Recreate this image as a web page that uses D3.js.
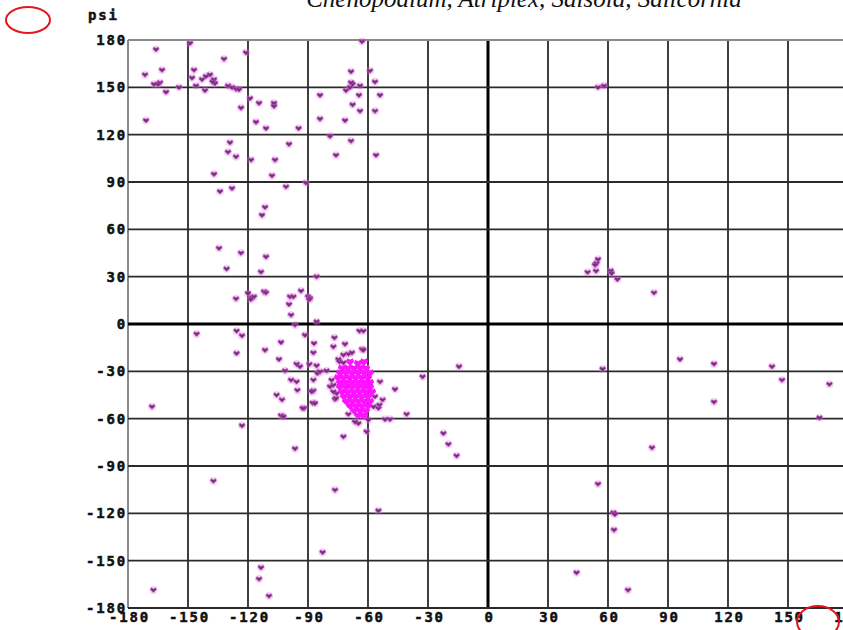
<!DOCTYPE html>
<html>
<head>
<meta charset="utf-8">
<script src="https://cdn.jsdelivr.net/npm/d3@7"></script>
<style>
  body { margin: 0; background: #fff; }
  svg { display: block; }
</style>
</head>
<body>
<div id="chart"></div>
<script>
// tick values, both axes
var ticks = [-180, -150, -120, -90, -60, -30, 0, 30, 60, 90, 120, 150, 180];

// scattered residues [phi, psi]
var residues = [
  [-166,174],[-171.5,158],[-163,161],[-164,153],[-165,152],[-167,152],[-161,147],[-154.5,150],
  [-171,129],[-149,178],[-147,161],[-148,156],[-146,151],[-141.5,148],[-143,155],[-141,157],
  [-139,158],[-137,155],[-136.5,152.5],[-137.7,153.5],[-132,168],[-130,151],[-128,150],[-126,149],
  [-124.5,148.6],[-121,172],[-123.5,137],[-119,143],[-114.5,140],[-107,140],[-107,138],[-116,128],
  [-111,124],[-94.7,124],[-129,115],[-130,109],[-126,106],[-118.5,104],[-106.5,104],[-99.5,114],
  [-137,95],[-134,84],[-128,86],[-108,94],[-101,87],[-91,89.5],[-111.5,74],[-113,69],
  [-84,145],[-84,130],[-79,119],[-76,107],[-71.5,129],[-71,148],[-69,150],[-67.7,152],
  [-68.5,153],[-68.5,160],[-67.7,139],[-68.5,116],[-64.5,145],[-64,151],[-64,135],[-63,179],
  [-59,160.5],[-56.5,153.5],[-56.5,135],[-56,107],[-54,145],
  [-134.5,48],[-123.5,45],[-111,42.6],[-130.7,35],[-113.5,33],[-85.7,30],[-126,16],[-120,19.4],
  [-118,16.7],[-117,17.3],[-118.7,15.6],[-112,20.5],[-111,19.8],[-99,17.3],[-97.3,17.3],[-99.5,12.5],
  [-93.5,21],[-98.5,5.7],[-96.5,-0.6],[-90,17.3],[-89,16.3],[-89.3,15.6],[-85.7,1.5],
  [-145.7,-6.3],[-125.7,-4.4],[-123,-7.4],[-125.7,-18.6],[-111.5,-16.5],[-103.5,-11.6],[-104.5,-22.4],
  [-101.5,-29.6],[-95.7,-25.4],[-94,-27],[-98.5,-35.5],[-95.7,-36.6],[-95.3,-42],[-105.7,-45],
  [-103,-48],[-103.5,-58],[-92,-53.4],[-91.5,-7],[-87,-12.3],[-89.3,-25.5],[-87.3,-18.2],
  [-87.3,-35.5],[-87.3,-42.3],[-87.7,-50],[-85.3,-31.3],[-84,-30.2],[-80.7,-29.6],[-85.7,-26.4],
  [-76.8,-8.7],[-77.3,-14.4],[-71.5,-12.7],[-74.8,-22.4],[-69.8,-19],[-68,-18.2],[-72.3,-19.6],
  [-63,-16],[-74.3,-23.9],[-72.3,-24.5],[-77.3,-38.7],[-75.7,-44],[-76.5,-47.7],[-79,-39.7],
  [-78.2,-35.5],[-64.3,-4.4],[-62.3,-4.4],[-62.3,-16.5],[-54,-36.6],[-46.5,-41.4],[-52.7,-48],
  [-54.3,-51.3],[-56.5,-46],[-57.3,-52.4],[-54.8,-53.4],[-69.8,-57.2],[-51.5,-60.4],[-49,-60.4],
  [-40.7,-57.2],[-62.3,-58.7],[-59.8,-60.8],[-64.8,-63],[-60.7,-68.2],[-66.5,-62],[-123,-64.4],
  [-168,-52.4],[-32.7,-33.4],[-102.3,-58.7],[-92.7,-53.4],[-86.5,-50.3],[-88.2,-42.9],[-77.3,-42.9],
  [-76,-47.1],[-72.3,-71.4],[-96.5,-79],[-14.5,-27],
  [-22.3,-69.3],[-19.8,-76.2],[-15.7,-83.5],[-137.3,-99.5],[-76.5,-105.2],[-54.8,-118.3],
  [-82.7,-144.7],[-113.5,-154.4],[-114.5,-161.6],[-109.5,-172.4],[-167.3,-168.6],
  [55,41],[54.3,38.5],[53.5,37.4],[49.8,32.8],[54,33.6],[61.3,33.8],[61.8,32.1],[64.7,28.3],
  [83,19.8],[57.3,-28.5],[96,-22.4],[113,-25.3],[113,-49.4],[142,-27],[147,-35.5],[170.7,-38.2],
  [165.7,-59.4],[82,-78.4],[55,-101.4],[62.7,-119.6],[63.5,-120.6],[63,-130.5],[44.3,-157.6],
  [70,-168.6],[55,150],[58,151]
];

// dense alpha-helix core, drawn bright
var helixCore = [
  [-69,-24],[-65,-25],[-62,-24],
  [-73,-28],[-70,-28],[-67,-28],[-64,-28],[-61,-28],
  [-74,-31],[-71,-31],[-68,-31],[-65,-31],[-62,-31],[-59,-31],
  [-75,-34],[-72,-34],[-69,-34],[-66,-34],[-63,-34],[-60,-34],
  [-74,-37],[-71,-37],[-68,-37],[-65,-37],[-62,-37],[-59,-37],
  [-74,-40],[-71,-40],[-68,-40],[-65,-40],[-62,-40],[-59,-40],
  [-73,-43],[-70,-43],[-67,-43],[-64,-43],[-61,-43],[-58,-43],
  [-72,-46],[-69,-46],[-66,-46],[-63,-46],[-60,-46],
  [-71,-49],[-68,-49],[-65,-49],[-62,-49],[-59,-49],
  [-69,-52],[-66,-52],[-63,-52],[-60,-52],
  [-67,-55],[-64,-55],[-61,-55],
  [-65,-58],[-62,-58]
];

var title = "Chenopodium, Atriplex, Salsola, Salicornia";

var width = 843, height = 630;
var svg = d3.select("#chart").append("svg")
  .attr("width", width)
  .attr("height", height);

var x = d3.scaleLinear().domain([-180, 180]).range([128, 848]);
var y = d3.scaleLinear().domain([180, -180]).range([40, 608]);

// title, top half runs off the page
svg.append("text")
  .attr("x", 524)
  .attr("y", 7)
  .attr("text-anchor", "middle")
  .style("font-family", "'Liberation Serif', serif")
  .style("font-style", "italic")
  .style("font-size", "25px")
  .style("fill", "#111")
  .text(title);

// grid
var grid = svg.append("g").attr("class", "grid");
function lineStyle(d) {
  if (d === 0) return {c: "#000", w: 3};
  if (d === 180 || d === -180) return {c: "#8a8a8a", w: 2};
  return {c: "#2a2a2a", w: 1.8};
}
grid.selectAll("line.v")
  .data(ticks)
  .enter().append("line")
  .attr("class", "v")
  .attr("x1", function(d) { return x(d); })
  .attr("x2", function(d) { return x(d); })
  .attr("y1", y(180))
  .attr("y2", y(-180))
  .attr("stroke", function(d) { return lineStyle(d).c; })
  .attr("stroke-width", function(d) { return lineStyle(d).w; });

grid.selectAll("line.h")
  .data(ticks)
  .enter().append("line")
  .attr("class", "h")
  .attr("y1", function(d) { return y(d); })
  .attr("y2", function(d) { return y(d); })
  .attr("x1", x(-180))
  .attr("x2", x(180))
  .attr("stroke", function(d) { return d === -180 ? "#2a2a2a" : lineStyle(d).c; })
  .attr("stroke-width", function(d) { return lineStyle(d).w; });

// chunky bitmap-ish label look
function labelStyle(sel) {
  sel.style("font-family", "'DejaVu Sans Mono', monospace")
    .style("font-weight", "bold")
    .style("font-size", "14px")
    .style("letter-spacing", "1.8px")
    .style("fill", "#111")
    .style("stroke", "#111")
    .style("stroke-width", "0.5px");
}

// axes labels only
var xAxis = svg.append("g")
  .attr("transform", "translate(0," + 610 + ")")
  .call(d3.axisBottom(x).tickValues(ticks).tickSize(0).tickPadding(2)
    .tickFormat(function(d) { return String(d); }));
xAxis.select(".domain").remove();
xAxis.selectAll("text").call(labelStyle).attr("dx", "1px");

var yAxis = svg.append("g")
  .attr("transform", "translate(" + 128 + ",0)")
  .call(d3.axisLeft(y).tickValues(ticks).tickSize(0).tickPadding(1)
    .tickFormat(function(d) { return String(d); }));
yAxis.select(".domain").remove();
yAxis.selectAll("text").call(labelStyle);

svg.append("text")
  .attr("x", 88)
  .attr("y", 20)
  .call(labelStyle)
  .text("psi");

// little heart shaped markers
var heart = "M0,2.6 L-3,-0.4 L-2.2,-2.3 L0,-1.1 L2.2,-2.3 L3,-0.4 Z";

var pts = svg.append("g").attr("class", "points");
pts.selectAll("circle")
  .data(residues)
  .enter().append("circle")
  .attr("cx", function(d) { return x(d[0]); })
  .attr("cy", function(d) { return y(d[1]); })
  .attr("r", 4)
  .attr("fill", "#e466e4")
  .attr("opacity", 0.3);

pts.selectAll("path.res")
  .data(residues)
  .enter().append("path")
  .attr("class", "res")
  .attr("d", heart)
  .attr("transform", function(d) { return "translate(" + x(d[0]) + "," + y(d[1]) + ")"; })
  .attr("fill", "#6f3676")
  .attr("stroke", "#c84fc8")
  .attr("stroke-width", 0.6);

pts.selectAll("path.core")
  .data(helixCore)
  .enter().append("path")
  .attr("class", "core")
  .attr("d", heart)
  .attr("transform", function(d) { return "translate(" + x(d[0]) + "," + y(d[1]) + ")"; })
  .attr("fill", "#ff14ff")
  .attr("stroke", "#ff14ff")
  .attr("stroke-width", 2);

// red annotation rings
svg.append("ellipse")
  .attr("cx", 28).attr("cy", 20).attr("rx", 22).attr("ry", 13)
  .attr("fill", "none").attr("stroke", "#e8141c").attr("stroke-width", 2);
svg.append("ellipse")
  .attr("cx", 818).attr("cy", 622).attr("rx", 21).attr("ry", 16)
  .attr("fill", "none").attr("stroke", "#e8141c").attr("stroke-width", 2);
</script>
</body>
</html>
